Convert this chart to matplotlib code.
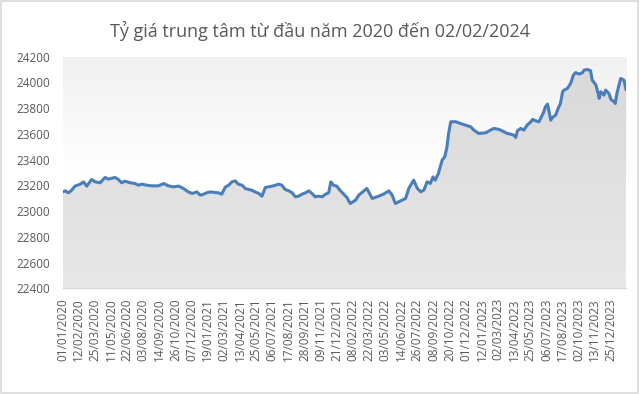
import numpy as np
import matplotlib
matplotlib.use("Agg")
import matplotlib.pyplot as plt
from matplotlib.colors import LinearSegmentedColormap
from matplotlib.patches import PathPatch, Rectangle

# ---- data (trading-day index, central rate VND/USD) ----
rows = [0, 5, 11, 17, 23, 33, 39, 45, 54, 61, 70, 79, 85, 92, 98, 104, 110, 116,
        126, 135, 141, 147, 157, 166, 178, 188, 197, 206, 216, 225, 234, 241, 250,
        256, 262, 268, 275, 284, 290, 296, 303, 309, 315, 321, 327, 334, 340, 346,
        352, 358, 365, 371, 377, 383, 390, 396, 402, 408, 414, 421, 427, 433, 439,
        445, 452, 458, 464, 470, 476, 483, 489, 495, 499, 504, 510, 516, 523, 529,
        535, 545, 551, 566, 576, 588, 597, 607, 613, 619, 625, 638, 644, 653, 660,
        666, 672, 678, 684, 689, 693, 699, 706, 711, 715, 718, 722, 731, 743, 759,
        765, 774, 787, 796, 802, 812, 821, 827, 833, 839, 843, 846, 852, 858, 864,
        871, 874, 880, 886, 889, 895, 898, 902, 904, 908, 911, 917, 923, 926, 930,
        933, 939, 945, 950, 954, 961, 967, 970, 976, 982, 985, 992, 996, 998, 1001,
        1007, 1010, 1016, 1020, 1026, 1028, 1031, 1035, 1038, 1044, 1048]
rates = [23150, 23158, 23143, 23163, 23195, 23210, 23228, 23195, 23246, 23228,
         23221, 23262, 23249, 23257, 23262, 23246, 23221, 23233, 23221, 23215,
         23202, 23210, 23202, 23197, 23197, 23215, 23197, 23189, 23195, 23176,
         23150, 23138, 23150, 23125, 23132, 23143, 23150, 23145, 23143, 23132,
         23189, 23202, 23228, 23236, 23210, 23202, 23176, 23169, 23163, 23150,
         23138, 23117, 23184, 23189, 23195, 23202, 23210, 23202, 23169, 23158,
         23143, 23112, 23117, 23132, 23143, 23158, 23138, 23112, 23117, 23112,
         23132, 23143, 23228, 23202, 23195, 23163, 23132, 23106, 23060, 23086,
         23125, 23177, 23099, 23117, 23133, 23158, 23125, 23060, 23073, 23099,
         23177, 23241, 23177, 23151, 23164, 23228, 23216, 23267, 23241, 23293,
         23397, 23423, 23501, 23604, 23695, 23695, 23677, 23656, 23630, 23604,
         23609, 23630, 23643, 23635, 23617, 23604, 23599, 23591, 23573, 23625,
         23643, 23630, 23669, 23694, 23713, 23702, 23694, 23720, 23772, 23811,
         23832, 23790, 23707, 23728, 23746, 23811, 23837, 23928, 23941, 23954,
         23993, 24057, 24076, 24065, 24076, 24096, 24101, 24091, 24019, 23980,
         23915, 23876, 23928, 23902, 23941, 23915, 23868, 23850, 23837, 23915,
         23980, 24031, 24019, 23946]
tick_rows = list(range(0, 1021, 30))
tick_labels = ["01/01/2020", "12/02/2020", "25/03/2020", "11/05/2020", "22/06/2020",
               "03/08/2020", "14/09/2020", "26/10/2020", "07/12/2020", "19/01/2021",
               "02/03/2021", "13/04/2021", "25/05/2021", "06/07/2021", "17/08/2021",
               "28/09/2021", "09/11/2021", "21/12/2021", "08/02/2022", "22/03/2022",
               "03/05/2022", "14/06/2022", "26/07/2022", "08/09/2022", "20/10/2022",
               "01/12/2022", "12/01/2023", "02/03/2023", "13/04/2023", "25/05/2023",
               "06/07/2023", "17/08/2023", "02/10/2023", "13/11/2023", "25/12/2023"]
y_ticks = [22400, 22600, 22800, 23000, 23200, 23400, 23600, 23800, 24000, 24200]
title = "Tỷ giá trung tâm từ đầu năm 2020 đến 02/02/2024"

FONT = ["Open Sans", "DejaVu Sans"]
plt.rcParams["font.family"] = FONT
TXT = "#595959"

fig = plt.figure(figsize=(6.4, 3.94), dpi=100)
fig.patch.set_facecolor("white")
ax = fig.add_axes([0.0977, 0.2678, 0.8805, 0.5883])
xmin, xmax = 0, rows[-1]
ymin, ymax = y_ticks[0], y_ticks[-1]
ax.set_xlim(xmin, xmax)
ax.set_ylim(ymin, ymax)

# faint background gradient
grad = np.linspace(0, 1, 256).reshape(-1, 1)
bg_cmap = LinearSegmentedColormap.from_list("bg", ["#ffffff", "#ffffff", "#f1f1f1"])
ax.imshow(grad, cmap=bg_cmap, aspect="auto", extent=(xmin, xmax, ymax, ymin),
          origin="upper", zorder=0)

# area fill with gradient clipped to area under the line
fill = ax.fill_between(rows, rates, ymin, facecolor="none", edgecolor="none")
clip = PathPatch(fill.get_paths()[0], transform=ax.transData,
                 facecolor="none", edgecolor="none")
ax.add_patch(clip)
fg_cmap = LinearSegmentedColormap.from_list("fg", ["#e8e8e8", "#d8d8d8"])
im = ax.imshow(grad, cmap=fg_cmap, aspect="auto", extent=(xmin, xmax, ymax, ymin),
               origin="upper", zorder=1)
im.set_clip_path(clip)

ax.plot(rows, rates, color="#4a7ebb", lw=2.2, zorder=3, solid_joinstyle="round")

for s in ["top", "right", "left"]:
    ax.spines[s].set_visible(False)
ax.spines["bottom"].set_color("#d9d9d9")
ax.spines["bottom"].set_linewidth(1.0)

ax.set_yticks(y_ticks)
ax.set_yticklabels([str(v) for v in y_ticks])
ax.set_xticks(tick_rows)
ax.set_xticklabels(tick_labels, rotation=90)
ax.tick_params(axis="both", length=0, colors=TXT, labelsize=8.5)
ax.tick_params(axis="y", pad=9)
ax.tick_params(axis="x", pad=7)

fig.text(0.5, 1 - 30.6 / 394, title, ha="center", va="center",
         fontsize=13, color=TXT, family=FONT)

fig.add_artist(Rectangle((0.001, 0.002), 0.996, 0.995, transform=fig.transFigure,
                         fill=False, edgecolor="#d9d9d9", lw=1.2))

fig.savefig("out.png", dpi=100)
